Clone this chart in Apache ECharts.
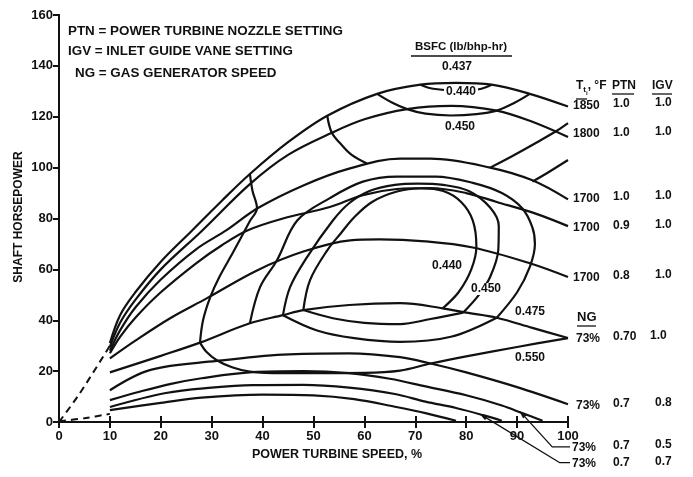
<!DOCTYPE html>
<html>
<head>
<meta charset="utf-8">
<script src="https://cdn.jsdelivr.net/npm/echarts@6/dist/echarts.min.js"></script>
<style>
  html, body { margin: 0; padding: 0; background: #fff; }
  #chart { width: 693px; height: 477px; }
</style>
</head>
<body>
<div id="chart"></div>
<script>
// Axis ranges and ticks
const speedTicks = [0, 10, 20, 30, 40, 50, 60, 70, 80, 90, 100];
const powerTicks = [0, 20, 40, 60, 80, 100, 120, 140, 160];

// Operating lines: [power turbine speed %, shaft horsepower]
const line1850 = [[10,31],[12,42],[15,51],[20,63],[26,75],[32,87],[37.5,97.5],[45,110],[52.7,120.4],[62.5,129],[71,132.6],[78,133.3],[85,132.6],[92.5,129],[100,124]];
const line1800 = [[10,29.5],[12,39],[15,48],[20,60],[28,75],[37.5,93.5],[45,105],[53.6,113.7],[60,119],[68.4,123],[77,124.3],[86,122.4],[93,118],[100,112]];
const line1700a = [[10,28],[12,36],[15,45],[20,56],[27,68],[33,75.5],[39,84],[48,93],[57,99.6],[67,103.5],[73,103.5],[84.7,100],[93,95],[100,87.5]];
const line1700b = [[10,27],[12,33.5],[15,41],[20,51],[27,62.5],[32,69.5],[37,75.3],[44,80],[53.2,84.5],[59.7,89.2],[66.4,91.6],[73,92],[80,90],[86,86.5],[93.5,82],[100,77]];
const line1700c = [[10,25],[15,32],[22,41],[29,48.6],[38.9,59.6],[48,67],[57.2,71.4],[63,71.8],[72,71],[81.3,68.6],[92.5,62.4],[100,57]];
const lineNg70 = [[10,19.5],[20,26],[27.7,31.2],[37.5,38.8],[44,42],[48,44],[57,46],[67,46.7],[75.4,44.7],[80,43],[86,41],[93,37],[100,33]];
const lineNg08 = [[10,12.5],[18,20.5],[31,24],[44,26.5],[57,27],[67,25.5],[73,23],[80,19.5],[90,13.7],[100,7]];
const lineNg05 = [[10,8.6],[16,12],[22,15],[28,17.2],[38,19.6],[48,20],[57,19.2],[65,17],[72,14],[80,10.5],[87,6.5],[91,3.5],[95,0.5]];
const lineNg07 = [[10,5.9],[21,11.4],[30,13.5],[38,14.5],[48,14.6],[57,13.5],[66,11],[72,8],[78,5.5],[83.3,2.7],[87,0.5]];
const lineNgLow = [[10,4.7],[20,7.5],[28,9.6],[40,10.8],[50,10.5],[58,9],[66,6],[72,3.5],[78,0.5]];

// Extrapolated (dashed) envelope from the origin
const dashUpper = [[0,0],[4,11],[10,30]];
const dashLower = [[0,0.3],[5,1.5],[10,3.2]];

// BSFC contours
const bsfc440Top = [[71,132.6],[73.5,131],[78,130.3],[82.5,130.8],[85,132.6]];
const bsfc450Top = [[62.5,129],[65.5,125.5],[68.4,123],[72,121.2],[77,120.5],[82,121],[86,122.4],[89.5,125.5],[92.5,129]];
const bsfcUpperLeft = [[52.7,120.4],[53.6,113.7],[55.5,109],[57.5,105],[60.5,101.6]];
const bsfcUpperRight = [[84.7,100],[89,104.5],[93.5,109.5],[97.8,114.5],[100,117.5]];
const bsfcEdge = [[93,94.5],[96,98],[100,103]];
const bsfcOuter = [[37.5,97.6],[38,91],[38.9,84],[37.5,79],[34.2,66.7],[31.5,57],[29.7,49],[28.3,40],[27.7,31.2]];
const bsfc550 = [[27.7,31.2],[29,27.5],[31,24.3],[34,21.5],[37.5,19.8],[44,19.2],[50.7,19.2],[60,19.3],[67,20.2],[73,23],[80,25.8],[90,29.5],[100,33]];
const bsfc475 = [[37.5,38.8],[39.5,53],[42.8,63.5],[46.8,79.2],[53.2,88],[59.7,94.5],[66.4,96.5],[74,96.5],[81.3,94],[87,90],[91,84],[93,76.5],[93.5,70],[92.5,61],[90,51],[86,41]];
const bsfc450 = [[44,42],[45.4,53],[48.7,64.7],[53.8,79.2],[57,86],[61,90.8],[66,93.2],[70.5,93.7],[75.5,93.2],[80.5,90.8],[84.7,84.3],[86.4,77],[86.3,67.5],[84.7,57],[82.5,50],[79.4,43]];
const bsfc440 = [[48,44],[49.3,55.7],[52.7,67.5],[55.5,74.5],[58,80.5],[61.5,86.5],[66.4,90.6],[71,91.8],[75.5,90.8],[79,86.5],[81.3,79.2],[82,69],[81,60],[78.5,51],[75.4,44.7]];
const lensLower475 = [[44,42],[50.7,36],[58,33],[67,31.5],[77,33.5],[86,41]];
const lensLower450 = [[48,44],[53.8,40.8],[60,39],[67,38.5],[73,40.5],[79.4,43]];

// Leader lines from the lower labels to their curves
const leaderIgv05 = [[100.4,-9.8],[96.9,-9.8],[91,3.2]];
const leaderIgv07 = [[100.4,-16],[98.4,-16],[83.3,2.4]];

const FONT = 'Liberation Sans, Arial, sans-serif';
const INK = '#111';

const solidCurves = [
  line1850, line1800, line1700a, line1700b, line1700c, lineNg70, lineNg08, lineNg05, lineNg07, lineNgLow,
  bsfc440Top, bsfc450Top, bsfcUpperLeft, bsfcUpperRight, bsfcEdge, bsfcOuter, bsfc550,
  bsfc475, bsfc450, bsfc440, lensLower475, lensLower450
];

const series = [];
solidCurves.forEach(function (pts) {
  series.push({
    type: 'line', data: pts, smooth: 0.35, symbol: 'none',
    lineStyle: { color: INK, width: 2.2 }, silent: true, z: 3
  });
});
[dashUpper, dashLower].forEach(function (pts) {
  series.push({
    type: 'line', data: pts, smooth: 0.3, symbol: 'none',
    lineStyle: { color: INK, width: 2, type: [7, 5] }, silent: true
  });
});
function leader(pts, rot) {
  const data = pts.map(function (p, i) {
    if (i === pts.length - 1) {
      return { value: p, symbol: 'triangle', symbolSize: [5, 8], symbolRotate: rot };
    }
    return { value: p, symbol: 'none' };
  });
  return {
    type: 'line', data: data, clip: false, showSymbol: true,
    itemStyle: { color: INK }, lineStyle: { color: INK, width: 1.3 }, silent: true
  };
}
series.push(leader(leaderIgv05, 43));
series.push(leader(leaderIgv07, 58));

const axisLineStyle = { color: INK, width: 2 };
const labelStyle = { color: INK, fontFamily: FONT, fontWeight: 'bold', fontSize: 13 };

function txt(x, y, s, opt) {
  return {
    type: 'text', x: x, y: y, silent: true, z: 100,
    style: Object.assign({ text: s, fill: INK, font: '600 12px ' + FONT, textVerticalAlign: 'middle' }, opt || {})
  };
}
// contour value label, knocked out of the line beneath it
function clabel(x, y, s) {
  return txt(x, y, s, { textAlign: 'center', backgroundColor: '#fff', padding: [0, 2] });
}
function uline(x1, x2, y) {
  return { type: 'line', silent: true, z: 100, shape: { x1: x1, y1: y, x2: x2, y2: y }, style: { stroke: INK, lineWidth: 1.3 } };
}

const keyFont = '600 13.4px ' + FONT;
const graphics = [
  // key of abbreviations
  txt(68, 31, 'PTN = POWER TURBINE NOZZLE SETTING', { font: keyFont }),
  txt(68, 51, 'IGV = INLET GUIDE VANE SETTING', { font: keyFont }),
  txt(75, 73, 'NG = GAS GENERATOR SPEED', { font: keyFont }),
  // BSFC labels
  txt(461, 47, 'BSFC (lb/bhp-hr)', { textAlign: 'center', font: '600 11.5px ' + FONT }),
  uline(411, 512, 56),
  txt(457, 67, '0.437', { textAlign: 'center' }),
  clabel(461, 92, '0.440'),
  txt(460, 127, '0.450', { textAlign: 'center' }),
  clabel(447, 266, '0.440'),
  clabel(486, 289, '0.450'),
  txt(530, 312, '0.475', { textAlign: 'center' }),
  txt(530, 358, '0.550', { textAlign: 'center' }),
  // right-hand legend table
  { type: 'text', x: 576, y: 86, silent: true, z: 100, style: { text: '{t|T}{s|t}{u|i}{r|, °F}', fill: INK, textVerticalAlign: 'middle',
      rich: { t: { font: '600 12px ' + FONT, fill: INK }, s: { font: '600 8px ' + FONT, fill: INK, padding: [8, 0, 0, 0] },
              u: { font: '600 6px ' + FONT, fill: INK, padding: [14, 0, 0, 0] }, r: { font: '600 12px ' + FONT, fill: INK } } } },
  uline(576, 587, 99),
  txt(612, 86, 'PTN'), uline(612, 634, 94),
  txt(652, 86, 'IGV'), uline(652, 672, 94),
  txt(573, 106, '1850'), txt(613, 104, '1.0'), txt(655, 103, '1.0'),
  txt(573, 134, '1800'), txt(613, 133, '1.0'), txt(655, 132, '1.0'),
  txt(573, 199, '1700'), txt(613, 197, '1.0'), txt(655, 196, '1.0'),
  txt(573, 228, '1700'), txt(613, 226, '0.9'), txt(655, 225, '1.0'),
  txt(573, 278, '1700'), txt(613, 276, '0.8'), txt(655, 275, '1.0'),
  txt(577, 317, 'NG', { font: '600 13px ' + FONT }), uline(577, 596, 326),
  txt(576, 339, '73%'), txt(613, 337, '0.70'), txt(650, 336, '1.0'),
  txt(576, 406, '73%'), txt(613, 404, '0.7'), txt(655, 403, '0.8'),
  txt(572, 448, '73%'), txt(613, 446, '0.7'), txt(655, 445, '0.5'),
  txt(572, 464, '73%'), txt(613, 463, '0.7'), txt(655, 462, '0.7'),
  // axis titles
  txt(337, 455, 'POWER TURBINE SPEED, %', { textAlign: 'center', font: '600 12.5px ' + FONT }),
  { type: 'text', x: 19, y: 217, rotation: Math.PI / 2, silent: true, z: 100,
    style: { text: 'SHAFT HORSEPOWER', fill: INK, font: '600 12px ' + FONT, textAlign: 'center', textVerticalAlign: 'middle' } }
];

const chart = echarts.init(document.getElementById('chart'), null, { renderer: 'canvas' });
chart.setOption({
  animation: false,
  backgroundColor: '#fff',
  grid: { left: 59, right: 125, top: 15, bottom: 55 },
  xAxis: [
    { type: 'value', min: speedTicks[0], max: speedTicks[speedTicks.length - 1], interval: 10, position: 'bottom',
      axisLine: { lineStyle: axisLineStyle }, axisTick: { inside: true, length: 6, lineStyle: { color: INK, width: 2 } },
      axisLabel: Object.assign({ margin: 8 }, labelStyle), splitLine: { show: false } },
    { type: 'value', min: speedTicks[0], max: speedTicks[speedTicks.length - 1], interval: 10, position: 'top',
      axisLine: { lineStyle: axisLineStyle }, axisTick: { inside: true, length: 6, lineStyle: { color: INK, width: 2 } },
      axisLabel: { show: false }, splitLine: { show: false } }
  ],
  yAxis: [
    { type: 'value', min: powerTicks[0], max: powerTicks[powerTicks.length - 1], interval: 20, position: 'left',
      axisLine: { show: true, lineStyle: axisLineStyle }, axisTick: { show: true, inside: false, length: 5, lineStyle: { color: INK, width: 2 } },
      axisLabel: Object.assign({ margin: 6 }, labelStyle), splitLine: { show: false } },
    { type: 'value', min: powerTicks[0], max: powerTicks[powerTicks.length - 1], interval: 20, position: 'right',
      axisLine: { show: true, lineStyle: axisLineStyle }, axisTick: { show: true, inside: true, length: 6, lineStyle: { color: INK, width: 2 } },
      axisLabel: { show: false }, splitLine: { show: false } }
  ],
  series: series,
  graphic: graphics
});
</script>
</body>
</html>
